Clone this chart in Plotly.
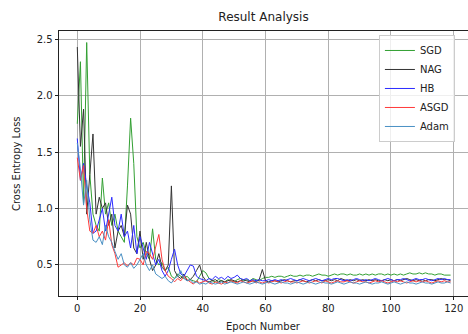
import plotly.graph_objects as go

epochs = list(range(120))

sgd = [1.75, 2.30, 1.05, 2.47, 1.30, 0.95, 0.85, 0.80, 1.27, 0.95,
       1.05, 0.85, 0.95, 0.80, 0.75, 0.70, 1.20, 1.80, 1.40, 0.75,
       0.65, 0.70, 0.60, 0.55, 0.82, 0.55, 0.50, 0.52, 0.45, 0.48,
       0.40, 0.38, 0.42, 0.40, 0.38, 0.40, 0.37, 0.36, 0.35, 0.40,
       0.45, 0.43, 0.38, 0.36, 0.35, 0.37, 0.36, 0.35, 0.37, 0.36,
       0.35, 0.37, 0.38, 0.36, 0.37, 0.36, 0.38, 0.37, 0.36, 0.38,
       0.39, 0.39, 0.40, 0.39, 0.40, 0.40, 0.39, 0.40, 0.41, 0.40,
       0.40, 0.41, 0.40, 0.41, 0.41, 0.40, 0.41, 0.42, 0.41, 0.41,
       0.40, 0.41, 0.42, 0.41, 0.42, 0.42, 0.41, 0.42, 0.41, 0.41,
       0.42, 0.41, 0.42, 0.41, 0.42, 0.41, 0.42, 0.42, 0.41, 0.42,
       0.41, 0.42, 0.41, 0.42, 0.41, 0.42, 0.43, 0.42, 0.42, 0.43,
       0.42, 0.43, 0.42, 0.42, 0.41, 0.42, 0.42, 0.41, 0.41, 0.41]

nag = [2.43, 1.55, 1.88, 0.95, 1.30, 1.66, 0.95, 1.10, 1.00, 1.05,
       0.85, 0.95, 0.65, 0.80, 0.85, 0.75, 1.03, 0.95, 0.65, 0.60,
       0.80, 0.55, 0.70, 0.55, 0.45, 0.50, 0.60, 0.48, 0.45, 0.50,
       1.20, 0.45, 0.40, 0.38, 0.42, 0.36, 0.37, 0.40, 0.45, 0.50,
       0.40, 0.36, 0.35, 0.36, 0.37, 0.35, 0.36, 0.35, 0.36, 0.37,
       0.36, 0.35, 0.36, 0.37, 0.36, 0.35, 0.36, 0.35, 0.37, 0.46,
       0.36, 0.35, 0.36, 0.36, 0.35, 0.36, 0.37, 0.36, 0.35, 0.36,
       0.36, 0.37, 0.36, 0.35, 0.36, 0.37, 0.36, 0.37, 0.36, 0.36,
       0.37, 0.36, 0.37, 0.36, 0.38, 0.37, 0.36, 0.37, 0.36, 0.37,
       0.36, 0.37, 0.36, 0.37, 0.36, 0.37, 0.36, 0.36, 0.37, 0.36,
       0.37, 0.36, 0.37, 0.36, 0.37, 0.38, 0.37, 0.36, 0.37, 0.36,
       0.37, 0.36, 0.37, 0.37, 0.36, 0.37, 0.38, 0.37, 0.37, 0.36]

hb = [1.62, 1.25, 1.40, 1.20, 1.05, 0.78, 0.80, 0.90, 1.00, 0.80,
      0.95, 1.10, 0.85, 0.80, 0.95, 0.75, 0.80, 0.65, 0.85, 0.60,
      0.75, 0.65, 0.55, 0.70, 0.60, 0.50, 0.55, 0.45, 0.40, 0.45,
      0.55, 0.64, 0.50, 0.42, 0.40, 0.45, 0.50, 0.49, 0.40, 0.38,
      0.37, 0.36, 0.38, 0.37, 0.40, 0.38, 0.39, 0.37, 0.40, 0.38,
      0.39, 0.41, 0.38, 0.37, 0.38, 0.36, 0.37, 0.36, 0.37, 0.36,
      0.36, 0.37, 0.36, 0.37, 0.36, 0.37, 0.36, 0.37, 0.38, 0.37,
      0.36, 0.37, 0.38, 0.37, 0.36, 0.37, 0.38, 0.37, 0.36, 0.37,
      0.38, 0.37, 0.38, 0.38, 0.37, 0.36, 0.37, 0.36, 0.37, 0.38,
      0.37, 0.36, 0.37, 0.36, 0.37, 0.38, 0.37, 0.36, 0.37, 0.38,
      0.37, 0.36, 0.37, 0.37, 0.38, 0.37, 0.36, 0.37, 0.38, 0.37,
      0.37, 0.38, 0.37, 0.36, 0.37, 0.38, 0.37, 0.38, 0.37, 0.37]

asgd = [1.45, 1.25, 1.38, 1.00, 0.80, 0.78, 0.85, 0.75, 0.80, 0.72,
        0.90, 0.68, 0.60, 0.48, 0.50, 0.52, 0.49, 0.52, 0.50, 0.56,
        0.55, 0.50, 0.62, 0.60, 0.55, 0.65, 0.77, 0.55, 0.45, 0.40,
        0.38, 0.35, 0.38, 0.36, 0.40, 0.37, 0.35, 0.33, 0.36, 0.34,
        0.35, 0.36, 0.34, 0.33, 0.35, 0.34, 0.33, 0.35, 0.34, 0.36,
        0.35, 0.34, 0.36, 0.35, 0.34, 0.35, 0.36, 0.34, 0.35, 0.34,
        0.35, 0.34, 0.35, 0.36, 0.35, 0.34, 0.35, 0.36, 0.35, 0.35,
        0.34, 0.35, 0.36, 0.35, 0.34, 0.35, 0.36, 0.35, 0.34, 0.36,
        0.35, 0.34, 0.35, 0.36, 0.35, 0.35, 0.36, 0.35, 0.34, 0.35,
        0.36, 0.35, 0.35, 0.34, 0.35, 0.36, 0.35, 0.36, 0.35, 0.34,
        0.35, 0.36, 0.35, 0.36, 0.35, 0.34, 0.35, 0.36, 0.35, 0.36,
        0.35, 0.36, 0.35, 0.34, 0.35, 0.36, 0.35, 0.36, 0.35, 0.35]

adam = [1.58, 1.35, 1.03, 1.25, 0.90, 0.72, 0.70, 0.75, 0.68, 0.85,
        0.75, 0.70, 0.62, 0.55, 0.60, 0.50, 0.48, 0.52, 0.47, 0.50,
        0.55, 0.60, 0.50, 0.45, 0.50, 0.42, 0.40, 0.38, 0.40, 0.36,
        0.34, 0.38, 0.40, 0.45, 0.38, 0.36, 0.37, 0.34, 0.35, 0.33,
        0.34, 0.33, 0.35, 0.34, 0.33, 0.34, 0.35, 0.33, 0.34, 0.35,
        0.34, 0.33, 0.34, 0.35, 0.34, 0.33, 0.34, 0.35, 0.34, 0.33,
        0.34, 0.35, 0.34, 0.33, 0.34, 0.35, 0.34, 0.34, 0.33, 0.34,
        0.35, 0.34, 0.33, 0.34, 0.35, 0.34, 0.33, 0.34, 0.35, 0.34,
        0.34, 0.33, 0.34, 0.35, 0.34, 0.33, 0.34, 0.35, 0.34, 0.34,
        0.33, 0.34, 0.35, 0.34, 0.33, 0.34, 0.34, 0.35, 0.34, 0.33,
        0.34, 0.35, 0.34, 0.33, 0.34, 0.35, 0.34, 0.34, 0.33, 0.34,
        0.35, 0.34, 0.34, 0.33, 0.34, 0.35, 0.34, 0.34, 0.35, 0.34]

series_names = ["SGD", "NAG", "HB", "ASGD", "Adam"]
series_values = [sgd, nag, hb, asgd, adam]
series_colors = ["#33a033", "#333333", "#2b2bff", "#ff3a3a", "#4a90c4"]

x_ticks = [0, 20, 40, 60, 80, 100, 120]
y_ticks = [0.5, 1.0, 1.5, 2.0, 2.5]

FONT = "DejaVu Sans"
fig = go.Figure()
for name, vals, col in zip(series_names, series_values, series_colors):
    fig.add_trace(go.Scatter(x=epochs, y=vals, mode="lines", name=name,
                             line=dict(color=col, width=1)))

fig.update_layout(
    width=468, height=334,
    margin=dict(l=59, r=0, t=31, b=38),
    paper_bgcolor="white", plot_bgcolor="white",
    font=dict(family=FONT, size=10, color="#222"),
    title=dict(text="Result Analysis", x=0.5, xref="paper", xanchor="center",
               y=1 - 17 / 334, yref="container", yanchor="middle",
               font=dict(family=FONT, size=12, color="#222")),
    showlegend=True,
    legend=dict(x=0.968, y=0.985, xanchor="right", yanchor="top",
                bgcolor="rgba(255,255,255,0.8)", bordercolor="#cccccc", borderwidth=1,
                font=dict(family=FONT, size=10, color="#222"),
                tracegroupgap=0, itemwidth=30),
    xaxis=dict(range=[-5.83, 124.55], tickvals=x_ticks, ticks="outside", ticklen=3.5,
               tickcolor="#222", tickwidth=0.8, showgrid=True, gridcolor="#b0b0b0",
               gridwidth=0.8, showline=True, linecolor="#222", linewidth=0.8,
               mirror=True, zeroline=False),
    yaxis=dict(range=[0.225, 2.572], tickvals=y_ticks, tickformat=".1f",
               ticks="outside", ticklen=3.5, tickcolor="#222", tickwidth=0.8,
               showgrid=True, gridcolor="#b0b0b0", gridwidth=0.8, showline=True,
               linecolor="#222", linewidth=0.8, zeroline=False),
    annotations=[
        dict(text="Epoch Number", x=0.5, y=0, xref="paper", yref="paper",
             xanchor="center", yanchor="top", yshift=-23, showarrow=False,
             font=dict(family=FONT, size=10, color="#222")),
        dict(text="Cross Entropy Loss", x=0, y=0.5, xref="paper", yref="paper",
             xanchor="right", yanchor="middle", xshift=-35, textangle=-90,
             showarrow=False, font=dict(family=FONT, size=10, color="#222")),
    ],
)

fig.write_html("out.html", config={"displayModeBar": False},
               post_script="document.body.style.margin='0';document.body.style.overflow='hidden';")
